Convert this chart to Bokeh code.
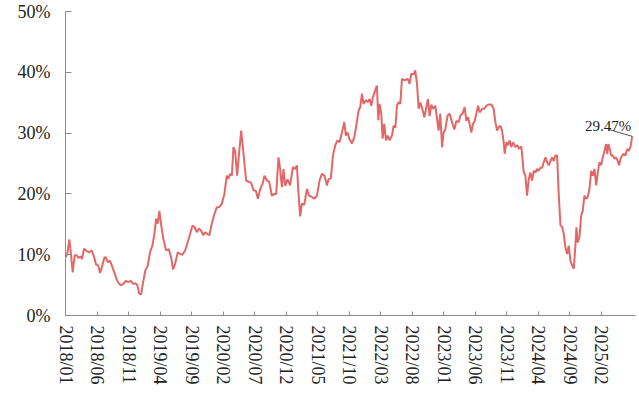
from bokeh.plotting import figure
from bokeh.models import Range1d, FixedTicker, Label
from bokeh.embed import file_html
from bokeh.resources import INLINE

# months since 2018/01
months = [0.0, 0.29, 0.60, 0.87, 1.14, 1.46, 1.77, 2.03, 2.41, 2.61,
          2.93, 3.36, 3.77, 4.16, 4.52, 4.84, 5.21, 5.48, 5.79, 6.16,
          6.38, 6.70, 7.07, 7.42, 7.74, 8.13, 8.49, 8.81, 9.18, 9.56,
          9.92, 10.35, 10.72, 11.07, 11.39, 11.67, 11.99, 12.35, 12.66, 13.04,
          13.41, 13.78, 14.10, 14.37, 14.63, 14.89, 15.16, 15.52, 15.96, 16.39,
          16.74, 17.06, 17.38,
          17.81, 18.17, 18.54, 18.97, 19.40, 19.76, 20.13, 20.45, 20.83, 21.20,
          21.51, 21.87, 22.14, 22.51, 22.83, 23.20, 23.62, 24.00, 24.36, 24.79,
          25.20, 25.58, 25.84, 26.11, 26.38, 26.64, 26.91, 27.22, 27.54, 27.86,
          28.13, 28.38, 28.65, 29.02, 29.45, 29.81, 30.19, 30.51, 30.88, 31.23,
          31.55, 31.94, 32.30, 32.73, 33.10, 33.42, 33.78, 34.04, 34.32, 34.58,
          34.84, 35.21,
          35.63, 36.06, 36.43, 36.70, 36.96, 37.22, 37.49, 37.86, 38.29, 38.65,
          39.08, 39.45, 39.88, 40.29, 40.67, 41.08, 41.46, 41.71, 42.09, 42.41,
          42.78, 43.14, 43.46, 43.85, 44.21, 44.47, 44.73, 45.05, 45.43, 45.80,
          46.11, 46.48, 46.75, 47.02, 47.27, 47.65, 47.97, 48.23, 48.49, 48.76,
          49.01, 49.39, 49.61, 49.81, 50.08, 50.29, 50.55, 50.83, 51.09, 51.40,
          51.78, 52.03, 52.31, 52.57, 52.83, 53.10, 53.36, 53.73,
          54.32, 54.57, 54.84, 55.21, 55.47, 55.75, 56.00, 56.27, 56.54, 56.91,
          57.22, 57.49, 57.75, 58.02, 58.28, 58.65, 58.92, 59.18, 59.44, 59.72,
          59.97, 60.24, 60.60, 60.92, 61.30, 61.67, 61.99, 62.35, 62.62, 62.98,
          63.30, 63.57, 63.84, 64.10, 64.36, 64.63, 64.89, 65.16, 65.43, 65.69,
          66.07, 66.43, 66.74, 67.11, 67.54, 67.90, 68.18, 68.45, 68.70, 68.97,
          69.24, 69.49, 69.66, 69.92, 70.19, 70.44, 70.71, 70.99, 71.35, 71.67,
          71.98,
          72.30, 72.67, 72.94, 73.20, 73.46, 73.73, 74.00, 74.26, 74.53, 74.79,
          75.05, 75.32, 75.59, 75.84, 76.12, 76.38, 76.64, 76.91, 77.17, 77.43,
          77.69, 77.97, 78.22, 78.50, 78.76, 79.02, 79.28, 79.56, 79.81, 80.08,
          80.35, 80.61, 80.87, 81.03, 81.24, 81.51, 81.78, 82.03, 82.30, 82.58,
          82.82, 83.10, 83.37, 83.62, 83.89, 84.17, 84.41, 84.69, 84.95, 85.21,
          85.48, 85.74, 85.91, 86.11, 86.32, 86.54, 86.79, 87.07, 87.33, 87.59,
          87.81, 88.02, 88.29, 88.54, 88.81, 89.08, 89.33, 89.60, 89.88]

# series values, percent
values = [9.6, 10.1, 12.5, 10.1, 7.1, 9.9, 9.9, 9.5, 9.7, 9.3,
          11.0, 10.6, 10.4, 10.7, 9.7, 8.4, 8.2, 7.0, 8.0, 9.5,
          9.6, 8.8, 9.0, 8.0, 7.1, 5.9, 5.2, 5.0, 5.2, 5.7,
          5.5, 5.7, 5.2, 5.3, 5.0, 3.6, 3.5, 5.7, 7.4, 8.2,
          10.4, 11.5, 13.4, 15.9, 15.1, 17.2, 15.0, 12.6, 10.7, 10.9,
          9.6, 7.6, 8.5,
          10.4, 10.1, 10.0, 10.7, 12.1, 13.4, 14.8, 14.6, 13.7, 14.3,
          13.9, 13.2, 13.7, 13.4, 13.2, 15.1, 16.7, 17.8, 17.8, 18.4,
          20.0, 23.0, 22.5, 23.3, 23.0, 27.7, 27.0, 23.0, 26.8, 30.4,
          27.7, 25.0, 22.2, 22.0, 21.8, 20.6, 20.5, 19.2, 20.8, 21.6,
          23.0, 22.2, 22.0, 19.7, 20.0, 20.0, 26.0, 24.1, 21.1, 24.1,
          21.3, 22.4,
          21.4, 24.4, 24.1, 24.7, 20.0, 16.3, 18.4, 18.2, 20.8, 19.7,
          19.5, 19.2, 19.7, 22.2, 23.3, 23.0, 21.4, 22.4, 22.6, 26.3,
          28.0, 28.8, 28.5, 30.1, 31.8, 29.6, 30.1, 29.0, 28.3, 29.3,
          31.2, 33.7, 34.3, 36.5, 34.8, 35.4, 35.1, 35.6, 34.5, 35.9,
          36.7, 37.8, 32.1, 34.8, 33.2, 29.1, 31.5, 28.8, 29.6, 28.8,
          29.6, 31.2, 30.9, 34.5, 35.1, 34.8, 38.9, 38.7,
          38.9, 38.1, 39.8, 39.6, 40.3, 38.1, 34.0, 35.0, 34.2, 32.6,
          34.2, 35.6, 32.8, 34.7, 34.0, 34.5, 32.4, 30.4, 33.2, 27.7,
          30.1, 30.6, 32.9, 33.2, 31.8, 30.6, 32.0, 31.8, 32.9, 33.2,
          34.3, 32.0, 32.6, 31.5, 30.1, 31.5, 32.0, 33.2, 34.5, 33.4,
          34.0, 34.0, 34.5, 34.7, 34.7, 34.0, 31.8, 30.4, 31.0, 31.2,
          30.4, 28.5, 26.6, 28.5, 28.0, 28.8, 27.7, 28.5, 27.7, 28.0,
          27.4,
          27.8, 23.6, 23.0, 19.7, 22.4, 23.5, 22.2, 23.8, 23.5, 24.1,
          23.8, 24.3, 24.3, 25.2, 26.0, 25.2, 24.7, 25.4, 26.0, 25.4,
          26.3, 26.3, 20.0, 14.8, 14.6, 13.4, 11.2, 10.1, 11.5, 9.0,
          8.2, 7.7, 11.5, 14.5, 12.0, 12.9, 16.4, 17.2, 19.7, 19.2,
          19.5, 20.8, 23.8, 23.0, 24.1, 21.4, 23.5, 25.2, 24.7, 26.0,
          27.1, 28.2, 26.6, 28.2, 27.4, 26.3, 26.3, 25.8, 26.0, 25.4,
          24.7, 25.8, 26.3, 26.6, 26.3, 27.4, 27.1, 27.7, 29.47]

x_tick_labels = ["2018/01", "2018/06", "2018/11", "2019/04", "2019/09", "2020/02",
                 "2020/07", "2020/12", "2021/05", "2021/10", "2022/03", "2022/08",
                 "2023/01", "2023/06", "2023/11", "2024/04", "2024/09", "2025/02"]
y_ticks = [0, 10, 20, 30, 40, 50]
y_tick_labels = ["0%", "10%", "20%", "30%", "40%", "50%"]
end_label = "29.47%"

x_tick_pos = [(int(s[:4]) - 2018) * 12 + int(s[5:]) - 1 for s in x_tick_labels]

FONT = "'Times New Roman', 'Liberation Serif', serif"
AXIS_COLOR = "#8C8C8C"
TEXT_COLOR = "#222222"

p = figure(width=639, height=393, output_backend="svg", toolbar_location=None,
           x_range=Range1d(0, 90.4), y_range=Range1d(0, 50),
           min_border_left=65, min_border_right=4, min_border_top=11,
           min_border_bottom=78)
p.outline_line_color = None
p.grid.visible = False
p.background_fill_color = "white"
p.border_fill_color = "white"

p.line(months, values, line_color="#E46767", line_width=2)

# leader line + end label
p.segment(x0=[months[-1] - 3.8], y0=[values[-1] + 1.15],
          x1=[months[-1]], y1=[values[-1]], line_color="#555555", line_width=1)
p.add_layout(Label(x=months[-1], y=values[-1], x_offset=-24, y_offset=10,
                   text=end_label, text_align="center", text_baseline="alphabetic",
                   text_font=FONT, text_font_size="15px", text_color=TEXT_COLOR))

xa = p.xaxis[0]
xa.ticker = FixedTicker(ticks=x_tick_pos)
xa.major_label_overrides = dict(zip(x_tick_pos, x_tick_labels))
xa.major_label_orientation = "vertical"
xa.major_label_text_font = FONT
xa.major_label_text_font_size = "18px"
xa.major_label_text_color = TEXT_COLOR
xa.major_label_standoff = 10
xa.major_tick_in = 4
xa.major_tick_out = 0
xa.minor_tick_line_color = None
xa.axis_line_color = AXIS_COLOR
xa.major_tick_line_color = AXIS_COLOR

ya = p.yaxis[0]
ya.ticker = FixedTicker(ticks=y_ticks)
ya.major_label_overrides = dict(zip(y_ticks, y_tick_labels))
ya.major_label_text_font = FONT
ya.major_label_text_font_size = "18px"
ya.major_label_text_color = TEXT_COLOR
ya.major_label_standoff = 15
ya.major_tick_in = 6
ya.major_tick_out = 0
ya.minor_tick_line_color = None
ya.axis_line_color = AXIS_COLOR
ya.major_tick_line_color = AXIS_COLOR

open("out.html", "w").write(file_html(p, INLINE))
